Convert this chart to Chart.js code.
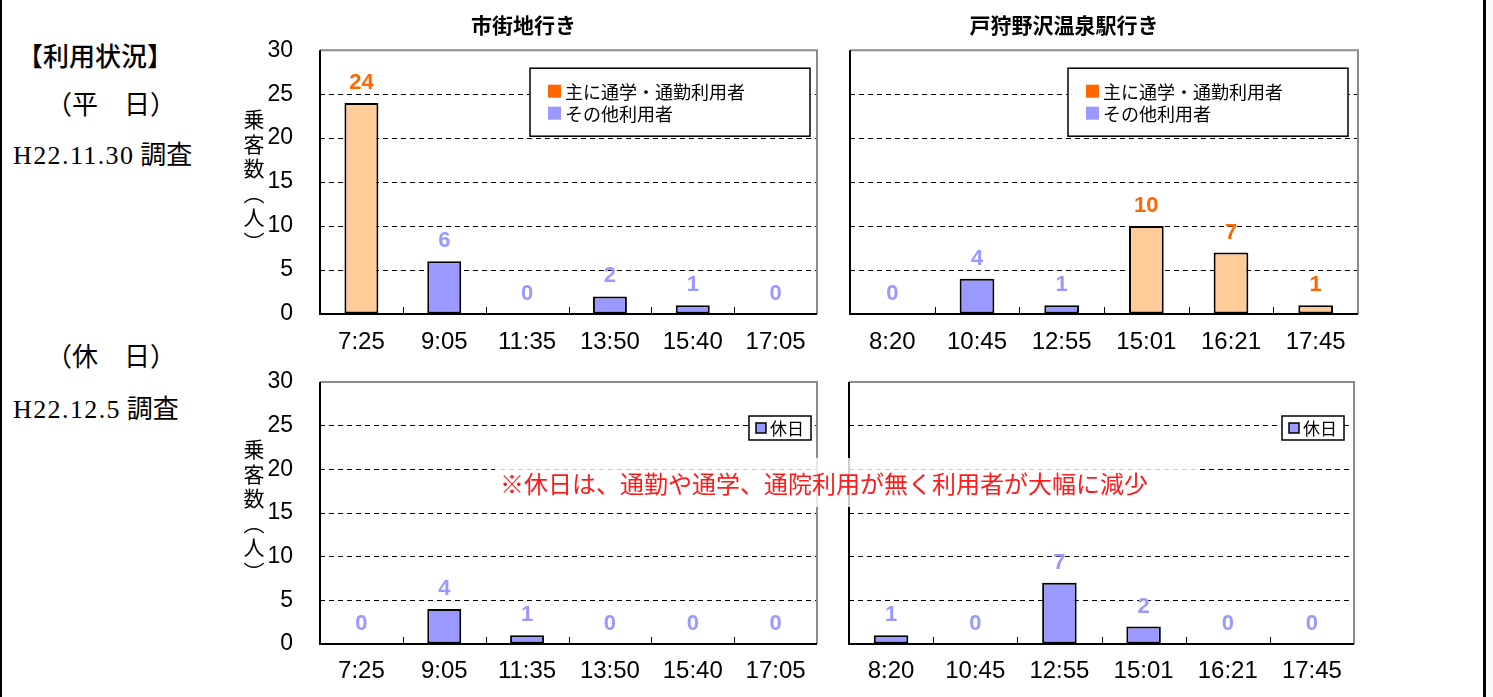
<!DOCTYPE html>
<html lang="ja">
<head>
<meta charset="utf-8">
<script src="https://cdn.jsdelivr.net/npm/chart.js@4.4.1/dist/chart.umd.min.js"></script>
<style>
  body { margin: 0; width: 1493px; height: 697px; background: #fff; position: relative; overflow: hidden;
         font-family: 'Noto Sans CJK JP', sans-serif; color: #000; }
  canvas { position: absolute; }
  .side { position: absolute; font-size: 26px; line-height: 1; white-space: nowrap; }
  .serif { font-family: 'Liberation Serif', serif; font-size: 26px; letter-spacing: 1.4px; }
  .ylab { position: absolute; writing-mode: vertical-rl; font-size: 21px; letter-spacing: 3.5px; line-height: 1; }
  .note { position: absolute; left: 495px; top: 458px; width: 705px; height: 49px; background: rgba(255,255,255,0.8);
          color: #ff1a1a; font-size: 24px; line-height: 49px; padding-left: 5px; box-sizing: border-box; white-space: nowrap; }
  .edge { position: absolute; top: 0; height: 697px; background: #000; }
</style>
</head>
<body>
<div class="edge" style="left:0;width:2px"></div>
<div class="edge" style="left:1483px;width:3px"></div>
<div style="position:absolute;left:1486px;top:0;width:7px;height:697px;background:#fafafa"></div>

<div class="side" style="left:17px;top:42px;font-weight:500">【利用状況】</div>
<div class="side" style="left:46px;top:90px">（平　日）</div>
<div class="side" style="left:13px;top:140px"><span class="serif">H22.11.30</span> 調査</div>
<div class="side" style="left:46px;top:342px">（休　日）</div>
<div class="side" style="left:13px;top:394px"><span class="serif">H22.12.5</span> 調査</div>

<canvas id="c1" width="600" height="360" style="left:230px;top:0"></canvas>
<canvas id="c2" width="594" height="360" style="left:770px;top:0"></canvas>
<canvas id="c3" width="600" height="337" style="left:230px;top:360px"></canvas>
<canvas id="c4" width="594" height="337" style="left:770px;top:360px"></canvas>

<div class="ylab" style="left:243px;top:109px">乗客数（人）</div>
<div class="ylab" style="left:243px;top:439px">乗客数（人）</div>
<div class="note">※休日は、通勤や通学、通院利用が無く利用者が大幅に減少</div>

<script>
// 時刻（カテゴリ）
const cityTimes = ['7:25', '9:05', '11:35', '13:50', '15:40', '17:05'];
const stationTimes = ['8:20', '10:45', '12:55', '15:01', '16:21', '17:45'];

// 平日
const cityCommute = [24, null, null, null, null, null];
const cityOther = [null, 6, 0, 2, 1, 0];
const stationCommute = [null, null, null, 10, 7, 1];
const stationOther = [0, 4, 1, null, null, null];

// 休日
const cityHoliday = [0, 4, 1, 0, 0, 0];
const stationHoliday = [1, 0, 7, 2, 0, 0];

const yMax = 30;
const yStep = 5;

const JP = "'Noto Sans CJK JP', sans-serif";
const NARROW = "'Liberation Sans Narrow', 'Arial Narrow', 'Liberation Sans', sans-serif";

const PEACH = '#ffcc99', ORANGE = '#ff6600', LAV = '#9999ff';

// 枠線・目盛り・数値ラベル・凡例を描く
const deco = {
  id: 'deco',
  afterDatasetsDraw(chart, args, opts) {
    const ctx = chart.ctx;
    const a = chart.chartArea;
    ctx.save();
    // 数値ラベル
    ctx.font = 'bold 22px ' + NARROW;
    ctx.textAlign = 'center';
    ctx.textBaseline = 'middle';
    chart.data.datasets.forEach((ds, i) => {
      chart.getDatasetMeta(i).data.forEach((bar, j) => {
        if (ds.data[j] === null) return;
        ctx.fillStyle = ds.labelColor;
        ctx.fillText(String(ds.data[j]), bar.x, bar.y - 20);
      });
    });
    // 枠
    ctx.lineWidth = 2;
    ctx.strokeStyle = '#8c8c8c';
    ctx.beginPath();
    ctx.moveTo(a.left, a.top); ctx.lineTo(a.right, a.top); ctx.lineTo(a.right, a.bottom);
    ctx.stroke();
    ctx.strokeStyle = '#000';
    ctx.beginPath();
    ctx.moveTo(a.left, a.top); ctx.lineTo(a.left, a.bottom); ctx.lineTo(a.right, a.bottom);
    ctx.stroke();
    // カテゴリ境界の目盛り（内向き）
    const x = chart.scales.x;
    ctx.lineWidth = 1;
    for (let i = 1; i < chart.data.labels.length; i++) {
      const px = Math.round((x.getPixelForValue(i - 1) + x.getPixelForValue(i)) / 2) + 0.5;
      ctx.beginPath(); ctx.moveTo(px, a.bottom); ctx.lineTo(px, a.bottom - 7); ctx.stroke();
    }
    // 凡例
    const lg = opts.legend;
    if (lg) {
      const bx = a.right - lg.right - lg.width, by = a.top + lg.top;
      ctx.fillStyle = '#fff';
      ctx.fillRect(bx, by, lg.width, lg.height);
      ctx.lineWidth = 1.5;
      ctx.strokeStyle = '#000';
      ctx.strokeRect(bx, by, lg.width, lg.height);
      ctx.font = lg.fontSize + 'px ' + JP;
      ctx.textAlign = 'left';
      lg.items.forEach((it, k) => {
        const cy = by + lg.firstRow + k * lg.rowGap;
        ctx.fillStyle = it.color;
        ctx.fillRect(bx + lg.swatchX, cy - lg.swatch / 2, lg.swatch, lg.swatch);
        if (it.outline) {
          ctx.lineWidth = 1.5;
          ctx.strokeRect(bx + lg.swatchX, cy - lg.swatch / 2, lg.swatch, lg.swatch);
        }
        ctx.fillStyle = '#000';
        ctx.fillText(it.text, bx + lg.swatchX + lg.swatch + 4, cy + 1);
      });
    }
    ctx.restore();
  }
};

function barSet(label, data, fill, labelColor) {
  return {
    label: label, data: data, backgroundColor: fill, labelColor: labelColor,
    borderColor: '#000', borderWidth: 2, borderSkipped: false,
    barPercentage: 0.41, categoryPercentage: 1
  };
}

function makeChart(id, labels, datasets, cfg) {
  return new Chart(document.getElementById(id), {
    type: 'bar',
    data: { labels: labels, datasets: datasets },
    options: {
      responsive: false,
      animation: false,
      layout: { padding: { top: cfg.padTop, right: cfg.padRight, left: 0, bottom: 0 } },
      plugins: {
        legend: { display: false },
        tooltip: { enabled: false },
        title: {
          display: !!cfg.title, text: cfg.title, color: '#000',
          font: { family: JP, size: 21, weight: 'bold' },
          padding: { top: 12, bottom: 13 }
        },
        deco: { legend: cfg.legend }
      },
      scales: {
        x: {
          stacked: true,
          grid: { display: false, drawTicks: false },
          border: { display: false },
          ticks: { color: '#000', font: { family: NARROW, size: 24 }, padding: cfg.xPad, maxRotation: 0 },
          afterFit(s) { s.height = cfg.xHeight; }
        },
        y: {
          min: 0, max: yMax,
          grid: {
            drawTicks: false, lineWidth: 1,
            color: c => (c.tick.value === 0 || c.tick.value === yMax) ? 'rgba(0,0,0,0)' : '#000'
          },
          border: { display: false, dash: [5, 4] },
          ticks: { display: cfg.yTicks, stepSize: yStep, color: '#000', font: { family: NARROW, size: 23 }, padding: 27 },
          afterFit(s) {
            s.width = cfg.yWidth;
            s.paddingTop = 0;
            s.paddingBottom = 0;
          }
        }
      }
    },
    plugins: [deco]
  });
}

const weekdayLegend = {
  right: 7, top: 18, width: 280, height: 68, firstRow: 23, rowGap: 22, swatchX: 18, swatch: 13, fontSize: 18,
  items: [{ text: '主に通学・通勤利用者', color: ORANGE }, { text: 'その他利用者', color: LAV }]
};
const holidayLegend = {
  right: 6, top: 34, width: 62, height: 24, firstRow: 12, rowGap: 0, swatchX: 7, swatch: 10, fontSize: 17,
  items: [{ text: '休日', color: LAV, outline: true }]
};

makeChart('c1', cityTimes, [
  barSet('主に通学・通勤利用者', cityCommute, PEACH, ORANGE),
  barSet('その他利用者', cityOther, LAV, LAV)
], { title: '市街地行き', padTop: 0, padRight: 13, xHeight: 46, xPad: 14, yWidth: 90, yTicks: true, legend: weekdayLegend });

makeChart('c2', stationTimes, [
  barSet('主に通学・通勤利用者', stationCommute, PEACH, ORANGE),
  barSet('その他利用者', stationOther, LAV, LAV)
], { title: '戸狩野沢温泉駅行き', padTop: 0, padRight: 6, xHeight: 46, xPad: 14, yWidth: 80, yTicks: false,
     legend: Object.assign({}, weekdayLegend, { right: 10 }) });

makeChart('c3', cityTimes, [
  barSet('休日', cityHoliday, LAV, LAV)
], { title: '', padTop: 22, padRight: 13, xHeight: 53, xPad: 13, yWidth: 90, yTicks: true, legend: holidayLegend });

makeChart('c4', stationTimes, [
  barSet('休日', stationHoliday, LAV, LAV)
], { title: '', padTop: 22, padRight: 10, xHeight: 53, xPad: 13, yWidth: 79, yTicks: false,
     legend: Object.assign({}, holidayLegend, { right: 10 }) });
</script>
</body>
</html>
